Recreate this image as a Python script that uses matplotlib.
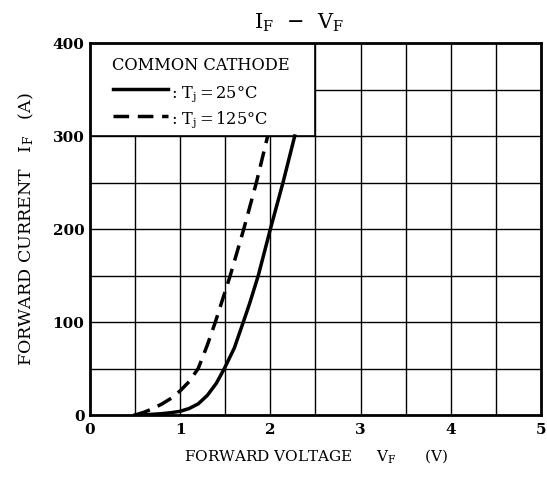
import matplotlib.pyplot as plt
from matplotlib.patches import Rectangle

plt.rcParams['font.family'] = ['DejaVu Serif']
plt.rcParams['mathtext.fontset'] = 'dejavuserif'

# forward characteristics
vf_25 = [0.5, 0.6, 0.7, 0.8, 0.9, 1.0, 1.1, 1.2, 1.3, 1.4, 1.49, 1.6,
         1.7, 1.77, 1.866, 2.0, 2.14, 2.27]
if_25 = [0, 0.3, 0.8, 1.5, 2.5, 4, 7, 12, 21, 34, 50, 72,
         100, 120, 150, 200, 250, 300]

vf_125 = [0.5, 0.6, 0.7, 0.8, 0.9, 1.0, 1.1, 1.2, 1.3, 1.39,
          1.555, 1.705, 1.845, 1.97]
if_125 = [0, 3, 7, 12, 18, 26, 36, 50, 75, 100,
          150, 200, 250, 300]

x_ticks = [0, 1, 2, 3, 4, 5]
y_ticks = [0, 100, 200, 300, 400]

fig = plt.figure(figsize=(5.47, 4.79), dpi=100)
ax = fig.add_axes([0.1645, 0.1336, 0.8245, 0.7766])

ax.set_xlim(0, 5)
ax.set_ylim(0, 400)

# grid every 0.5 V / 50 A
for v in [i * 0.5 for i in range(1, 10)]:
    ax.axvline(v, color="black", lw=1.0, zorder=1)
for a in range(50, 400, 50):
    ax.axhline(a, color="black", lw=1.0, zorder=1)

# legend box hides the grid in the top-left cell block
ax.add_patch(Rectangle((0, 300), 2.5, 100, facecolor="white",
                       edgecolor="black", lw=1.2, zorder=2))

dash = (0, (4.5, 2.5))
ax.plot(vf_25, if_25, color="black", lw=2.5, zorder=3)
ax.plot(vf_125, if_125, color="black", lw=2.5, ls=dash, zorder=3)

ax.text(0.24, 371, "COMMON CATHODE", fontsize=11.7, va="baseline", zorder=4)
ax.plot([0.255, 0.865], [351, 351], color="black", lw=2.5, zorder=4)
ax.text(0.9, 342, r": T$_{\rm j}\,$=$\,$25°C", fontsize=11.7,
        va="baseline", zorder=4)
ax.plot([0.255, 0.865], [321.5, 321.5], color="black", lw=2.5, ls=dash, zorder=4)
ax.text(0.9, 313.5, r": T$_{\rm j}\,$=$\,$125°C", fontsize=11.7,
        va="baseline", zorder=4)

ax.set_xticks(x_ticks)
ax.set_yticks(y_ticks)
ax.tick_params(length=0, labelsize=11)
ax.tick_params(axis="x", pad=6)
ax.tick_params(axis="y", pad=4)
for lab in ax.get_xticklabels() + ax.get_yticklabels():
    lab.set_fontweight("bold")
for s in ax.spines.values():
    s.set_linewidth(2.0)
    s.set_zorder(5)

ax.set_xlabel(r"FORWARD VOLTAGE     V$_{\rm F}$      (V)", fontsize=11, labelpad=7)
ax.set_ylabel(r"FORWARD CURRENT   I$_{\rm F}$   (A)", fontsize=12.6, labelpad=12)
ax.set_title(r"I$_{\rm F}$  −  V$_{\rm F}$", fontsize=15, pad=10, x=0.463)

fig.savefig("out.png", dpi=100)
